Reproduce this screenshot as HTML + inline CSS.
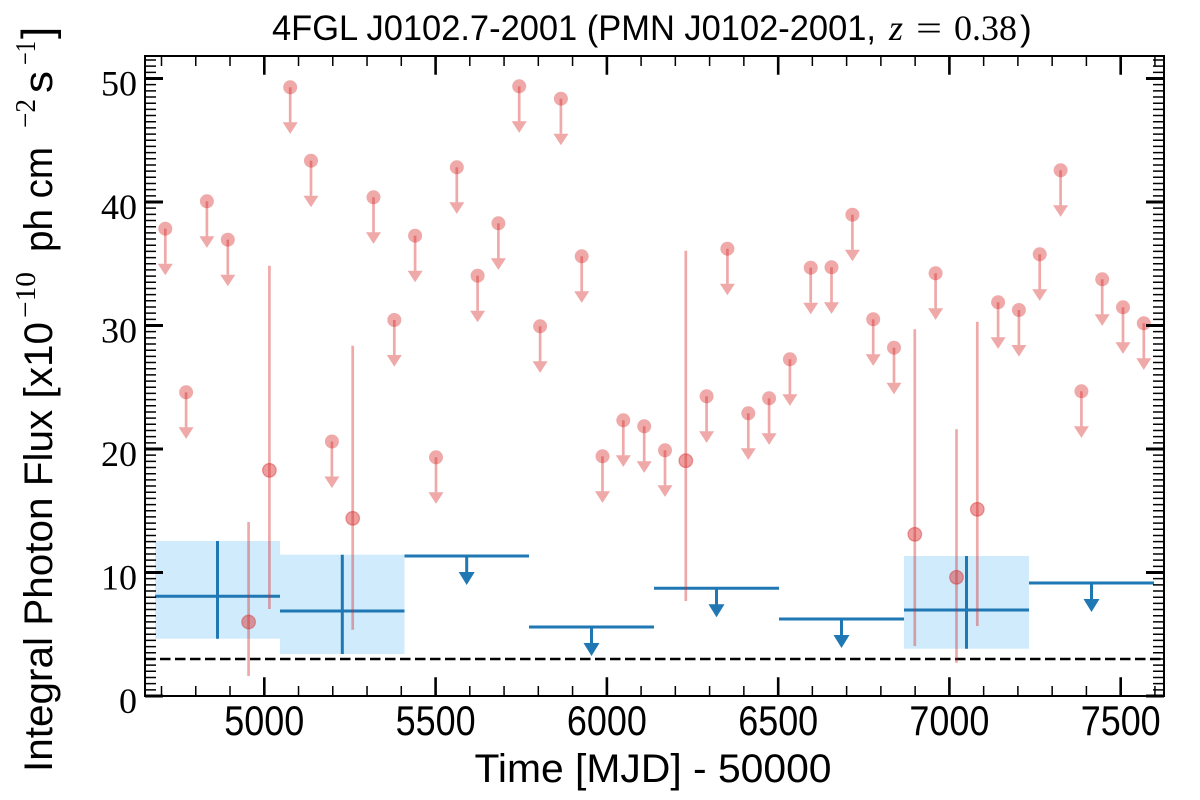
<!DOCTYPE html>
<html>
<head>
<meta charset="utf-8">
<style>
html,body{margin:0;padding:0;background:#fff;}
svg{display:block;}
</style>
</head>
<body>
<svg width="1200" height="800" viewBox="0 0 1200 800" xmlns="http://www.w3.org/2000/svg">
<defs>
<g id="u">
<circle cx="0" cy="0" r="7" fill="#d62728" fill-opacity="0.4"/>
<line x1="0" y1="0" x2="0" y2="35" stroke="#d62728" stroke-opacity="0.4" stroke-width="2.7"/>
<path d="M-7.5 35H7.5L0 46.6Z" fill="#d62728" fill-opacity="0.4"/>
</g>
<g id="b">
<line x1="0" y1="0" x2="0" y2="17" stroke="#1f77b4" stroke-width="3"/>
<path d="M-8 16H8L0 29Z" fill="#1f77b4"/>
</g>
</defs>

<rect x="155" y="541" width="125" height="97.7" fill="#cfebfc"/>
<rect x="280" y="554.7" width="124.5" height="99.3" fill="#cfebfc"/>
<rect x="904" y="556" width="125" height="92.7" fill="#cfebfc"/>

<line x1="145" y1="659" x2="1164" y2="659" stroke="#000" stroke-width="2.6" stroke-dasharray="10.5 4.5"/>

<g stroke="#1f77b4" stroke-width="3" fill="none">
<line x1="155" y1="596.3" x2="280" y2="596.3"/>
<line x1="217.5" y1="541" x2="217.5" y2="638.7"/>
<line x1="280" y1="611" x2="404.5" y2="611"/>
<line x1="342.3" y1="554.7" x2="342.3" y2="654"/>
<line x1="404.5" y1="556" x2="529" y2="556"/>
<line x1="529" y1="627" x2="654" y2="627"/>
<line x1="654" y1="588.3" x2="779" y2="588.3"/>
<line x1="779" y1="619" x2="904" y2="619"/>
<line x1="904" y1="610" x2="1029" y2="610"/>
<line x1="966.5" y1="556" x2="966.5" y2="648.7"/>
<line x1="1029" y1="583" x2="1154" y2="583"/>
</g>
<use href="#b" x="466.7" y="556"/>
<use href="#b" x="591.5" y="627"/>
<use href="#b" x="716.5" y="588.3"/>
<use href="#b" x="841.5" y="619"/>
<use href="#b" x="1091.5" y="583"/>

<g stroke="#d62728" stroke-opacity="0.4" stroke-width="2.7">
<line x1="248.6" y1="522" x2="248.6" y2="676"/>
<line x1="269.4" y1="265.7" x2="269.4" y2="609"/>
<line x1="352.7" y1="345.7" x2="352.7" y2="629.7"/>
<line x1="685.8" y1="250.7" x2="685.8" y2="601"/>
<line x1="914.8" y1="329.3" x2="914.8" y2="646"/>
<line x1="956.5" y1="429.3" x2="956.5" y2="662.7"/>
<line x1="977.3" y1="321.7" x2="977.3" y2="626"/>
</g>
<g fill="#d62728" fill-opacity="0.45" stroke="#d62728" stroke-opacity="0.4" stroke-width="1.3">
<circle cx="248.6" cy="622" r="6.8"/>
<circle cx="269.4" cy="470.3" r="6.8"/>
<circle cx="352.7" cy="518.3" r="6.8"/>
<circle cx="685.8" cy="460.7" r="6.8"/>
<circle cx="914.8" cy="534.3" r="6.8"/>
<circle cx="956.5" cy="577.3" r="6.8"/>
<circle cx="977.3" cy="509.3" r="6.8"/>
</g>

<use href="#u" x="165.3" y="228.7"/>
<use href="#u" x="186.1" y="392.3"/>
<use href="#u" x="206.9" y="201.3"/>
<use href="#u" x="227.8" y="239.7"/>
<use href="#u" x="290.2" y="87.3"/>
<use href="#u" x="311.0" y="160.7"/>
<use href="#u" x="331.9" y="441.5"/>
<use href="#u" x="373.5" y="197.3"/>
<use href="#u" x="394.3" y="320"/>
<use href="#u" x="415.1" y="235.7"/>
<use href="#u" x="436.0" y="457.3"/>
<use href="#u" x="456.8" y="167.3"/>
<use href="#u" x="477.6" y="275.7"/>
<use href="#u" x="498.4" y="223.3"/>
<use href="#u" x="519.2" y="86.3"/>
<use href="#u" x="540.1" y="326.3"/>
<use href="#u" x="560.9" y="98.7"/>
<use href="#u" x="581.7" y="256.3"/>
<use href="#u" x="602.5" y="456.3"/>
<use href="#u" x="623.3" y="420.3"/>
<use href="#u" x="644.2" y="426.3"/>
<use href="#u" x="665.0" y="450.3"/>
<use href="#u" x="706.6" y="396.3"/>
<use href="#u" x="727.4" y="248.7"/>
<use href="#u" x="748.3" y="413.3"/>
<use href="#u" x="769.1" y="398.3"/>
<use href="#u" x="789.9" y="359.3"/>
<use href="#u" x="810.7" y="267.7"/>
<use href="#u" x="831.5" y="267.3"/>
<use href="#u" x="852.4" y="214.7"/>
<use href="#u" x="873.2" y="319.3"/>
<use href="#u" x="894.0" y="347.7"/>
<use href="#u" x="935.6" y="273.3"/>
<use href="#u" x="998.1" y="302.3"/>
<use href="#u" x="1018.9" y="310"/>
<use href="#u" x="1039.7" y="254.3"/>
<use href="#u" x="1060.6" y="170.3"/>
<use href="#u" x="1081.4" y="391.3"/>
<use href="#u" x="1102.2" y="279.3"/>
<use href="#u" x="1123.0" y="307.3"/>
<use href="#u" x="1143.8" y="323.3"/>

<line x1="150.5" y1="696.75" x2="150.5" y2="56" stroke="#000" stroke-width="11" stroke-dasharray="1.5 4.675"/>
<line x1="1158.5" y1="696.75" x2="1158.5" y2="56" stroke="#000" stroke-width="11" stroke-dasharray="1.5 4.675"/>
<line x1="160.75" y1="691" x2="1164" y2="691" stroke="#000" stroke-width="10" stroke-dasharray="1.5 32.756"/>
<line x1="160.75" y1="61" x2="1164" y2="61" stroke="#000" stroke-width="10" stroke-dasharray="1.5 32.756"/>

<g stroke="#000" stroke-width="3">
<path d="M145 696h18M145 572.5h18M145 449h18M145 325.5h18M145 202h18M145 78.5h18"/>
<path d="M1164 696h-18M1164 572.5h-18M1164 449h-18M1164 325.5h-18M1164 202h-18M1164 78.5h-18"/>
</g>
<g stroke="#000" stroke-width="2.6">
<path d="M264.3 696v-18.7M435.6 696v-18.7M606.9 696v-18.7M778.2 696v-18.7M949.4 696v-18.7M1120.7 696v-18.7"/>
<path d="M264.3 56v18.7M435.6 56v18.7M606.9 56v18.7M778.2 56v18.7M949.4 56v18.7M1120.7 56v18.7"/>
</g>

<rect x="145" y="56" width="1019" height="640" fill="none" stroke="#000" stroke-width="2"/>

<g font-family="Liberation Serif, serif" font-size="36" text-anchor="end" fill="#000">
<text x="137" y="713">0</text>
<text x="137" y="589.5">10</text>
<text x="137" y="466">20</text>
<text x="137" y="342.5">30</text>
<text x="137" y="219">40</text>
<text x="137" y="95.5">50</text>
</g>

<g font-family="Liberation Sans, sans-serif" font-size="42" fill="#000">
<text x="224.3" y="735" textLength="80" lengthAdjust="spacingAndGlyphs">5000</text>
<text x="395.6" y="735" textLength="80" lengthAdjust="spacingAndGlyphs">5500</text>
<text x="566.9" y="735" textLength="80" lengthAdjust="spacingAndGlyphs">6000</text>
<text x="738.2" y="735" textLength="80" lengthAdjust="spacingAndGlyphs">6500</text>
<text x="909.4" y="735" textLength="80" lengthAdjust="spacingAndGlyphs">7000</text>
<text x="1080.7" y="735" textLength="80" lengthAdjust="spacingAndGlyphs">7500</text>
</g>

<text x="474.5" y="782" font-family="Liberation Sans, sans-serif" font-size="40" textLength="357" lengthAdjust="spacingAndGlyphs" fill="#000">Time [MJD] - 50000</text>

<g transform="translate(52,772) rotate(-90)" fill="#000">
<text x="0" y="0" font-family="Liberation Sans, sans-serif" font-size="40" textLength="450" lengthAdjust="spacingAndGlyphs">Integral Photon Flux [x10</text>
<text x="454" y="-17" font-family="Liberation Serif, serif" font-size="29" textLength="46" lengthAdjust="spacingAndGlyphs">−10</text>
<text x="520" y="0" font-family="Liberation Sans, sans-serif" font-size="40" textLength="105" lengthAdjust="spacingAndGlyphs">ph cm</text>
<text x="644" y="-17" font-family="Liberation Serif, serif" font-size="29" textLength="29" lengthAdjust="spacingAndGlyphs">−2</text>
<text x="679" y="0" font-family="Liberation Sans, sans-serif" font-size="40" textLength="22" lengthAdjust="spacingAndGlyphs">s</text>
<text x="707" y="-17" font-family="Liberation Serif, serif" font-size="29" textLength="24" lengthAdjust="spacingAndGlyphs">−1</text>
<text x="733" y="0" font-family="Liberation Sans, sans-serif" font-size="44">]</text>
</g>

<g fill="#000">
<text x="272" y="40" font-family="Liberation Sans, sans-serif" font-size="35" textLength="604" lengthAdjust="spacingAndGlyphs">4FGL J0102.7-2001 (PMN J0102-2001,</text>
<text x="889" y="40" font-family="Liberation Serif, serif" font-style="italic" font-size="36">z</text>
<text x="916" y="40" font-family="Liberation Serif, serif" font-size="36" textLength="26" lengthAdjust="spacingAndGlyphs">=</text>
<text x="954" y="40" font-family="Liberation Serif, serif" font-size="36">0.38</text>
<text x="1020" y="40" font-family="Liberation Sans, sans-serif" font-size="35">)</text>
</g>
</svg>
</body>
</html>
